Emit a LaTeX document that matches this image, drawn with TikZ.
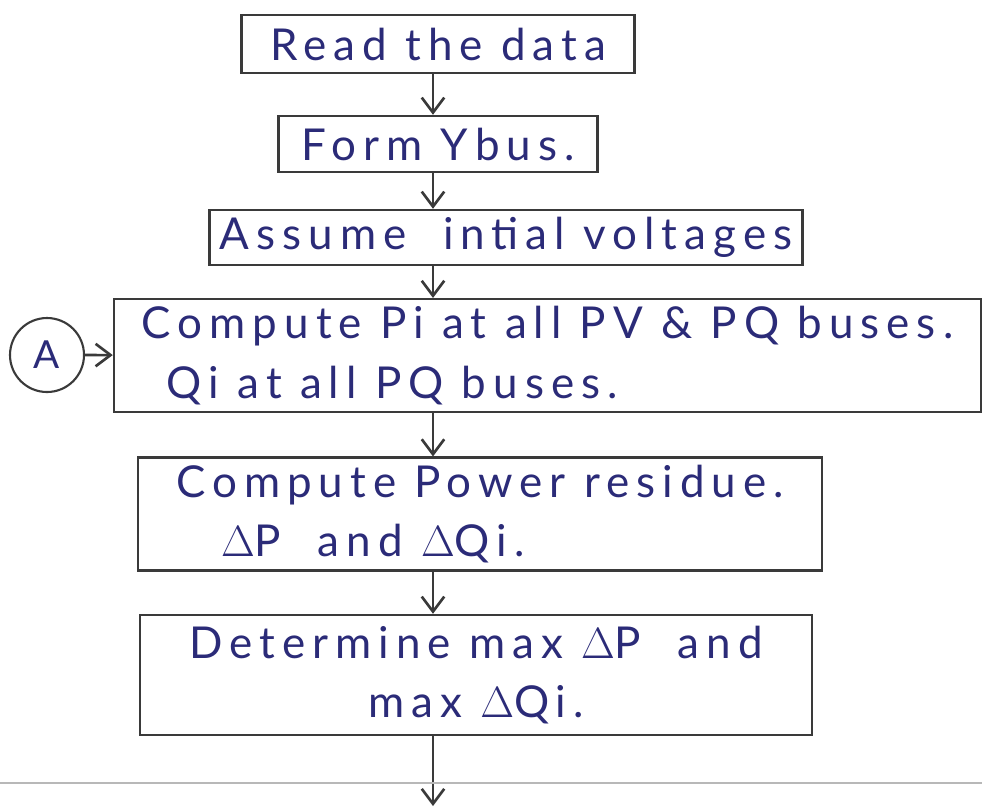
\documentclass[tikz,border=0pt]{standalone}
\usepackage{fontspec}
\setmainfont{Lato}[LetterSpace=16]
\usetikzlibrary{arrows.meta, positioning}
\definecolor{ink}{HTML}{2B2B78}
\definecolor{pencil}{HTML}{3A3A3A}
\definecolor{seam}{HTML}{B8B8B8}
\tikzset{
  % blocco del diagramma
  stepbox/.style={draw=pencil, line width=1.4pt, minimum height=1.1cm,
    align=center, text=ink, inner sep=4pt, font=\fontsize{25}{34}\selectfont},
  % connettore
  flow/.style={-{Straight Barb[length=3mm, width=4.5mm]}, line width=1.5pt, pencil},
  % connettore di ingresso
  entry/.style={circle, draw=pencil, line width=1.2pt, minimum size=1.48cm,
    inner sep=0pt, text=ink, font=\fontsize{22}{26}\selectfont},
}
\begin{document}
\begin{tikzpicture}
  \useasboundingbox (0,0) rectangle (19.64,-16.18);
  % blocchi
  \node[stepbox, minimum width=7.86cm, minimum height=1.16cm] (read) at (8.76,-0.88) {Read the data};
  \node[stepbox, minimum width=6.38cm, minimum height=1.12cm] (ybus) at (8.76,-2.88) {Form Ybus.};
  \node[stepbox, minimum width=11.86cm] (volt) at (10.12,-4.75) {Assume \ intial voltages};
  \node[stepbox, minimum width=17.34cm, minimum height=2.1cm, align=left] (pq) at (10.95,-7.11)
    {Compute Pi at all PV \& PQ buses.\\\hspace*{0.5cm}Qi at all PQ buses.};
  \node[stepbox, minimum width=13.68cm, minimum height=2.24cm, align=left] (res) at (9.6,-10.28)
    {Compute Power residue.\\\hspace*{0.9cm}$\Delta$P \ and $\Delta$Qi.};
  \node[stepbox, minimum width=13.44cm, minimum height=2.4cm] (max) at (9.52,-13.5)
    {Determine max $\Delta$P \ and\\max $\Delta$Qi.};
  \node[entry] (A) at (0.94,-7.1) {A};
  % colonna delle frecce
  \coordinate (spine) at (8.66,0);
  \coordinate (next) at (8.66,-16.12);
  \draw[flow] (read.south -| spine) -- (ybus.north -| spine);
  \draw[flow] (ybus.south -| spine) -- (volt.north -| spine);
  \draw[flow] (volt.south -| spine) -- (pq.north -| spine);
  \draw[flow] (pq.south -| spine) -- (res.north -| spine);
  \draw[flow] (res.south -| spine) -- (max.north -| spine);
  \draw[flow] (max.south -| spine) -- (next);
  \draw[flow] (A) -- (pq);
  % giunta della scansione
  \coordinate (seamL) at (0,-15.66);
  \coordinate (seamR) at (19.64,-15.66);
  \draw[seam, line width=1.2pt] (seamL) -- (seamR);
\end{tikzpicture}
\end{document}
